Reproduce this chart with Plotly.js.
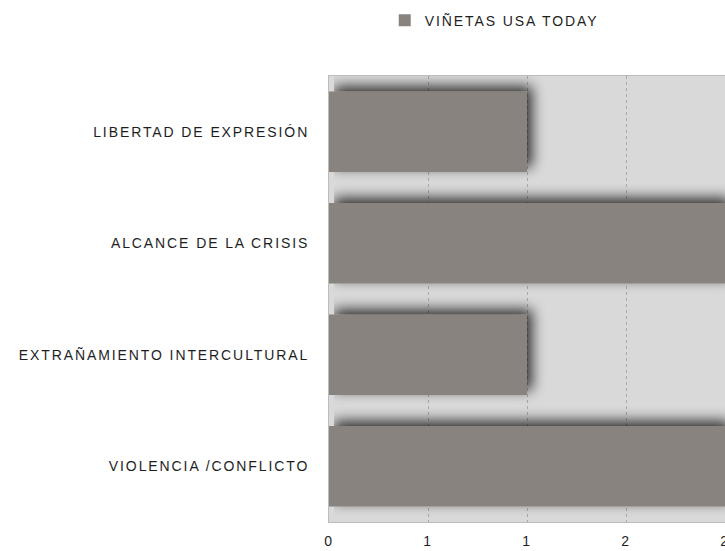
<!DOCTYPE html>
<html>
<head>
<meta charset="utf-8">
<script src="https://cdn.plot.ly/plotly-3.0.1.min.js"></script>
<style>
  html, body { margin: 0; padding: 0; background: #fff; overflow: hidden; }
  #chart { width: 745px; height: 551px; }
  text { letter-spacing: 1.9px; }
</style>
</head>
<body>
<div id="chart"></div>
<script>
const categories = [
  "LIBERTAD DE EXPRESIÓN",
  "ALCANCE DE LA CRISIS",
  "EXTRAÑAMIENTO INTERCULTURAL",
  "VIOLENCIA /CONFLICTO"
];
const seriesName = "VIÑETAS USA TODAY";
const values = [1, 2, 1, 2];
const tickVals = [0, 0.5, 1, 1.5, 2];
const tickText = ["0", "1", "1", "2", "2"];

const trace = {
  type: "bar",
  orientation: "h",
  y: categories,
  x: values,
  name: seriesName,
  showlegend: true,
  marker: { color: "#88837f", line: { width: 0 } },
  hoverinfo: "none"
};

const layout = {
  width: 745,
  height: 551,
  margin: { l: 329, r: 0, t: 76, b: 29 },
  paper_bgcolor: "#ffffff",
  plot_bgcolor: "#d9d9d9",
  font: { family: "Liberation Sans, Arial, sans-serif", size: 14, color: "#1e1e1e" },
  bargap: 0.28,
  showlegend: true,
  legend: {
    orientation: "h",
    x: 0.134, xanchor: "left",
    y: 1.16, yanchor: "top",
    font: { size: 14, color: "#1e1e1e" },
    bgcolor: "rgba(0,0,0,0)"
  },
  xaxis: {
    range: [0, 2.101],
    tickvals: tickVals,
    ticktext: tickText,
    showgrid: true,
    gridcolor: "#a9a9a9",
    griddash: "dot",
    gridwidth: 1,
    zeroline: false,
    showline: true,
    linecolor: "#bcbcbc",
    linewidth: 1,
    mirror: true,
    ticks: "",
    ticklabelstandoff: 6,
    tickfont: { size: 14, color: "#1e1e1e" },
    fixedrange: true
  },
  yaxis: {
    autorange: "reversed",
    showgrid: false,
    zeroline: false,
    showline: true,
    linecolor: "#bcbcbc",
    linewidth: 1,
    mirror: true,
    ticks: "",
    ticklabelstandoff: 16,
    tickfont: { size: 14, color: "#1e1e1e" },
    fixedrange: true
  }
};

Plotly.newPlot("chart", [trace], layout, { displayModeBar: false, staticPlot: true }).then(function (gd) {
  const svg = gd.querySelector("svg.main-svg");
  const ns = "http://www.w3.org/2000/svg";
  let defs = svg.querySelector("defs");
  if (!defs) { defs = document.createElementNS(ns, "defs"); svg.insertBefore(defs, svg.firstChild); }
  const f = document.createElementNS(ns, "filter");
  f.setAttribute("id", "barShadow");
  f.setAttribute("filterUnits", "userSpaceOnUse");
  f.setAttribute("x", "0"); f.setAttribute("y", "0");
  f.setAttribute("width", "1000"); f.setAttribute("height", "600");
  f.innerHTML =
    '<feGaussianBlur in="SourceAlpha" stdDeviation="7" result="b"/>' +
    '<feOffset in="b" dx="5" dy="-5" result="o"/>' +
    '<feComponentTransfer in="o" result="s"><feFuncA type="linear" slope="0.8"/></feComponentTransfer>' +
    '<feMerge><feMergeNode in="s"/><feMergeNode in="SourceGraphic"/></feMerge>';
  defs.appendChild(f);
  gd.querySelectorAll(".barlayer .point path").forEach(function (p) {
    p.setAttribute("filter", "url(#barShadow)");
  });
});
</script>
</body>
</html>
